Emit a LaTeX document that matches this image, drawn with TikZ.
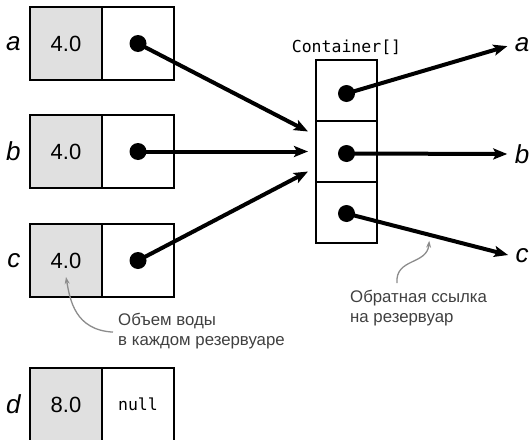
\documentclass[tikz,border=0pt]{standalone}
\usepackage{fontspec}
\setmainfont{Liberation Sans}
\setmonofont{DejaVu Sans Mono}
\usetikzlibrary{arrows.meta, positioning}

\begin{document}
\begin{tikzpicture}[x=1pt, y=-1pt, >={Stealth[length=14pt,width=11pt,inset=3pt]},
    font=\fontsize{22}{26}\selectfont]
  \tikzset{
    val/.style={
      draw, line width=1.6pt, fill=black!12, outer sep=0pt, inner sep=0pt,
      minimum width=72pt, minimum height=73pt},
    ref/.style={
      draw, line width=1.6pt, outer sep=0pt, inner sep=0pt,
      minimum width=72pt, minimum height=73pt},
    slot/.style={
      draw, line width=1.4pt, outer sep=0pt,
      minimum width=61pt, minimum height=61pt},
    var/.style={font=\fontsize{26}{30}\selectfont\itshape},
    code/.style={font=\fontsize{16.5}{20}\ttfamily},
    ptr/.style={->, line width=4pt},
    dot/.style={circle, fill=black, minimum size=17pt, inner sep=0pt},
    note/.style={align=left, text=black!75, inner sep=0pt,
      font=\fontsize{16.8}{20}\selectfont},
    hint/.style={-{Stealth[length=7pt,width=5pt]}, draw=black!45, line width=1.3pt}}

  \useasboundingbox (0,0) rectangle (530,439);

  % water tanks
  \node[val] (aval) at (66,43.5) {4.0};
  \node[ref] (aref) [right=0pt of aval] {};
  \node[val] (bval) [below=35pt of aval] {4.0};
  \node[ref] (bref) [right=0pt of bval] {};
  \node[val] (cval) [below=36pt of bval] {4.0};
  \node[ref] (cref) [right=0pt of cval] {};
  \node[val] (dval) [below=71pt of cval] {8.0};
  \node[ref, code] (dref) [right=0pt of dval] {null};

  \node[var] (la) [left=6pt of aval] {a};
  \node[var] (lb) [left=6pt of bval] {b};
  \node[var] (lc) [left=6pt of cval] {c};
  \node[var] (ld) [left=6pt of dval] {d};

  % shared container array
  \node[slot] (s1) at (346.5,90.5) {};
  \node[slot] (s2) [below=0pt of s1] {};
  \node[slot] (s3) [below=0pt of s2] {};
  \node[code] (arr) [above=2pt of s1] {Container[]};

  \node[var] (oa) at (522,45) {a};
  \node[var] (ob) at (522,154) {b};
  \node[var] (oc) at (522,256) {c};

  \coordinate (ina) at ([xshift=-8pt, yshift=20pt]s2.west);
  \coordinate (inb) at ([xshift=-8pt]s2.west);
  \coordinate (inc) at ([xshift=-8pt, yshift=-20pt]s2.west);

  \node[dot] (da) at (aref.center) {};
  \node[dot] (db) at (bref.center) {};
  \node[dot] (dc) at (cref.center) {};
  \node[dot] (d1) at ([yshift=-3pt]s1.center) {};
  \node[dot] (d2) at ([yshift=-2pt]s2.center) {};
  \node[dot] (d3) at ([yshift=-1pt]s3.center) {};

  \draw[ptr] (da.center) -- (ina);
  \draw[ptr] (db.center) -- (inb);
  \draw[ptr] (dc.center) -- (inc);

  \draw[ptr, shorten >=4pt] (d1.center) -- (oa.west);
  \draw[ptr, shorten >=4pt] (d2.center) -- (ob.west);
  \draw[ptr, shorten >=4pt] (d3.center) -- (oc.west) coordinate[pos=.5] (onc);

  % callouts
  \node[note, anchor=north west] (n1) at (118,313) {Объем воды\\в каждом резервуаре};
  \node[note, anchor=north west] (n2) at (350,290) {Обратная ссылка\\на резервуар};

  \coordinate (t1) at ([yshift=20pt]cval.south);
  \coordinate (f1) at ([xshift=-5pt, yshift=-1pt]n1.west);
  \coordinate (t2) at ([yshift=-6pt]onc);
  \coordinate (f2) at (397,283);

  \draw[hint] (f1) .. controls (75,330) and (70,300) .. (t1);
  \draw[hint] (f2) .. controls (395,258) and (427,265) .. (t2);
\end{tikzpicture}
\end{document}
